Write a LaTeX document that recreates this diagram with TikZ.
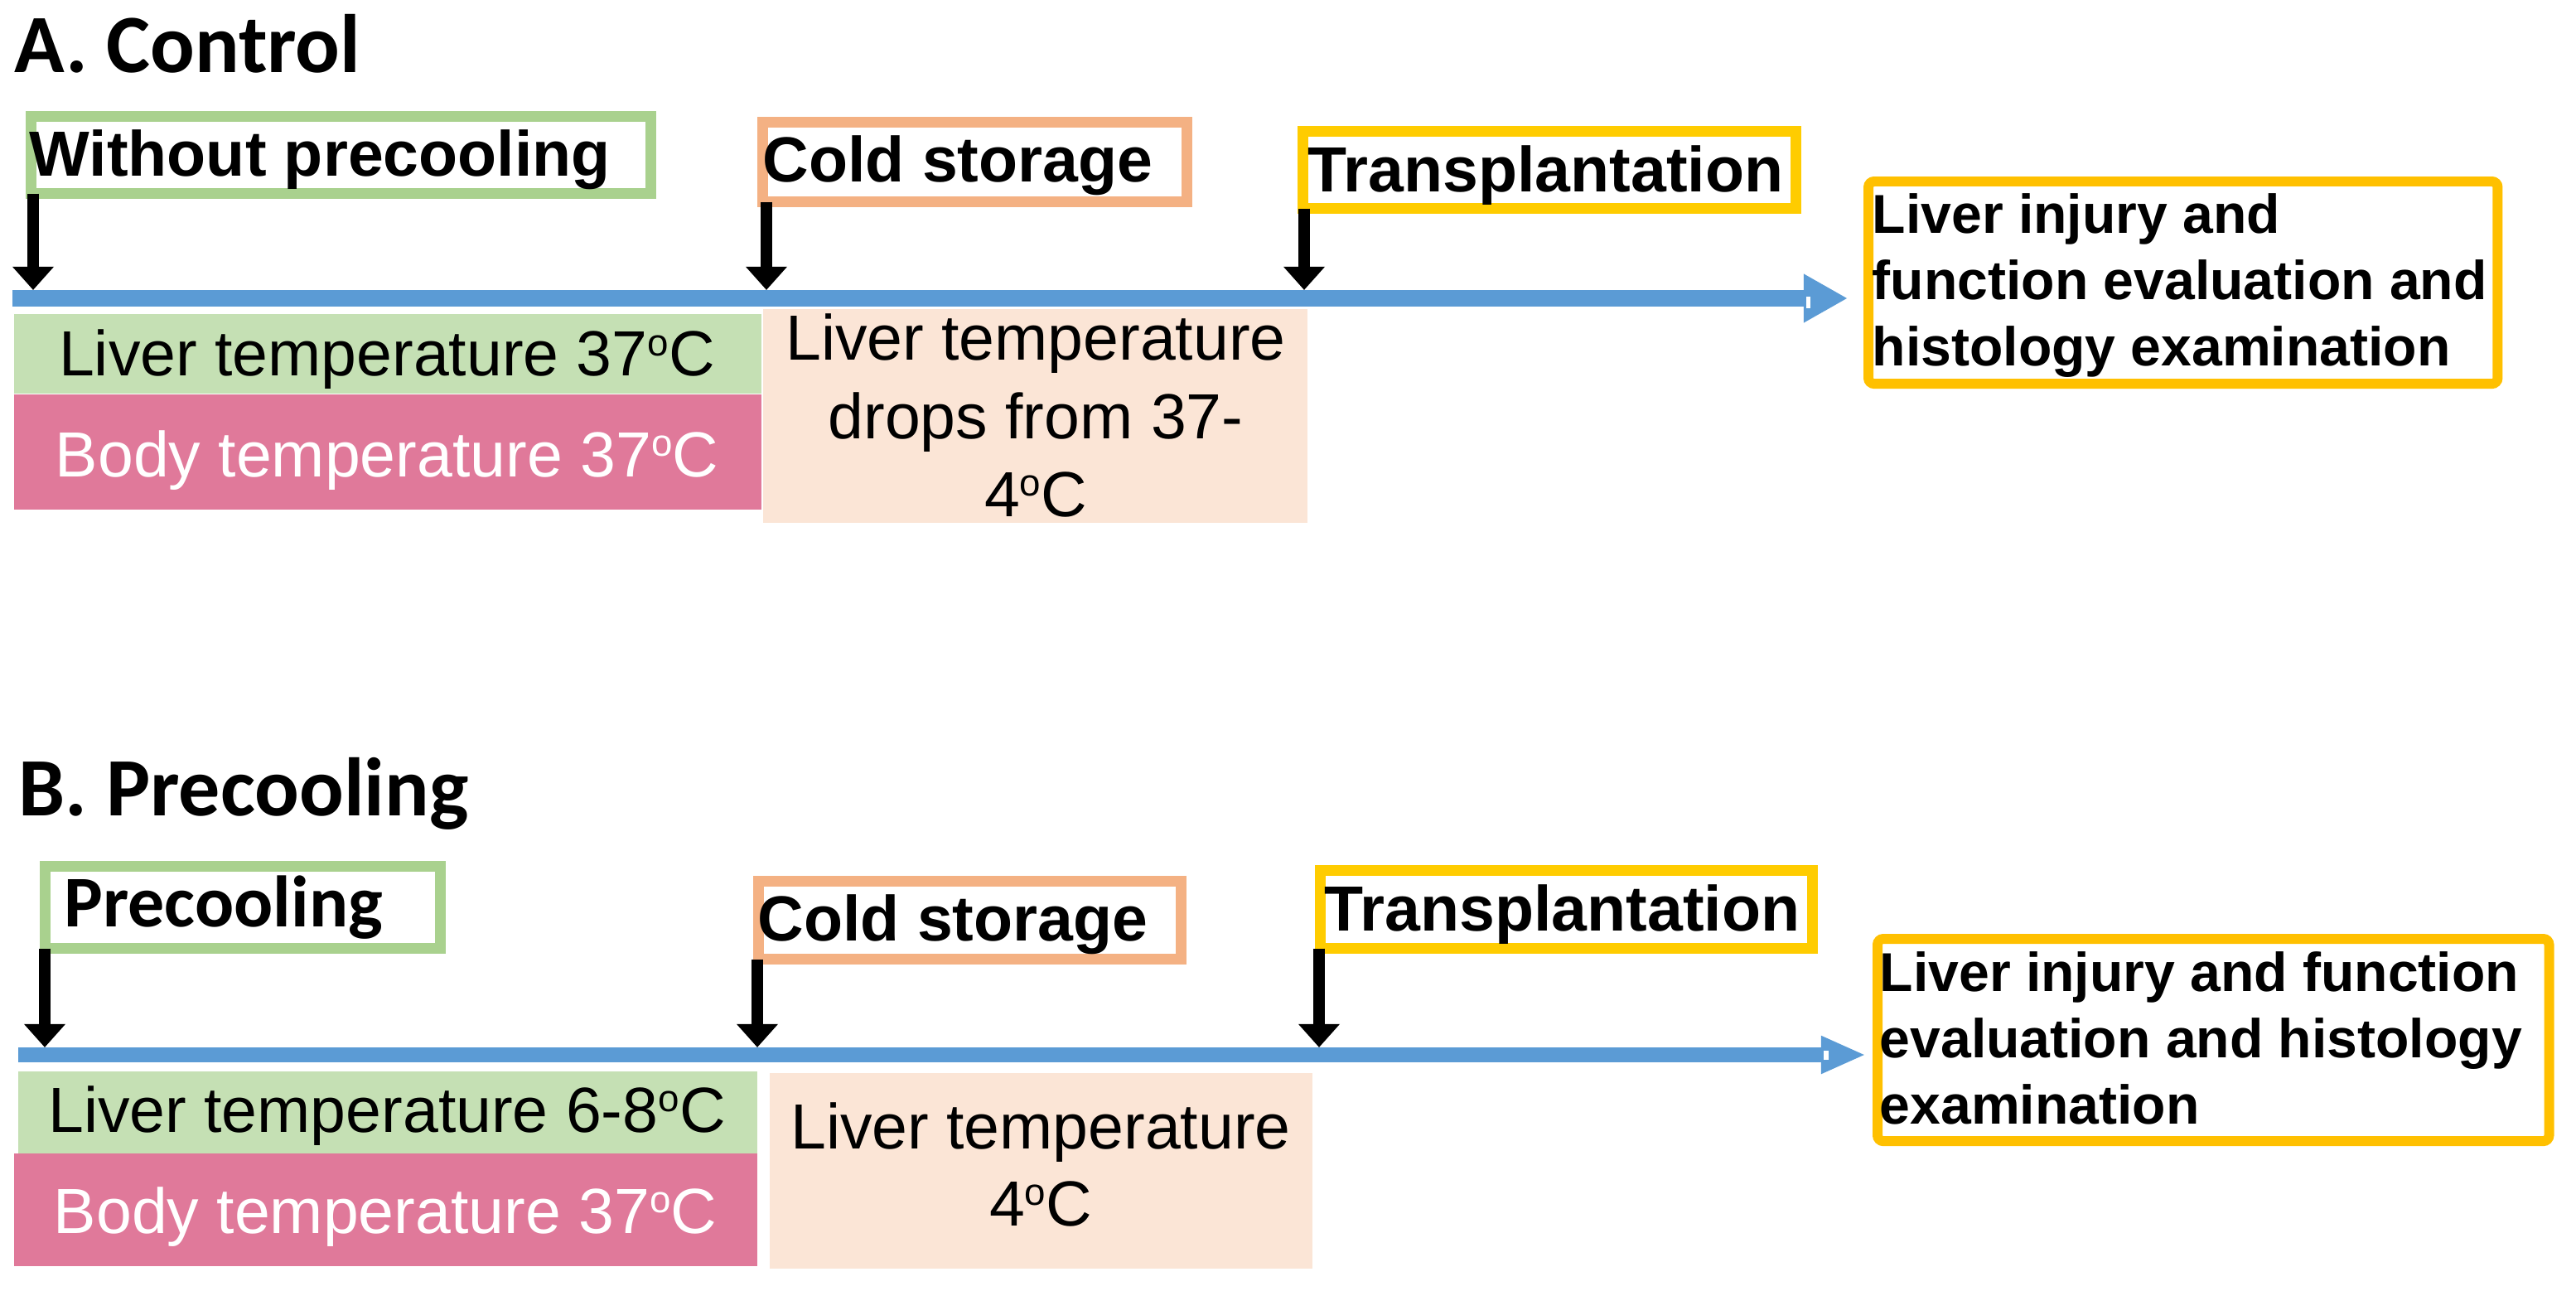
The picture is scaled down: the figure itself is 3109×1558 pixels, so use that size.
\documentclass[tikz,border=0pt]{standalone}
\usepackage{fontspec}
\setmainfont{Liberation Sans}
\newfontfamily\carlito{Carlito}
\usetikzlibrary{arrows.meta}
\definecolor{cgreenb}{HTML}{A9D18E}
\definecolor{corange}{HTML}{F4B183}
\definecolor{cgold}{HTML}{FFCC00}
\definecolor{cgoldb}{HTML}{FFC000}
\definecolor{cgreenf}{HTML}{C5E0B4}
\definecolor{cpink}{HTML}{E0799A}
\definecolor{cpeach}{HTML}{FBE5D6}
\definecolor{cblue}{HTML}{5B9BD5}
\newcommand\dgc{\raisebox{0.32em}{\fontsize{13}{13}\selectfont o}C}
\begin{document}
\begin{tikzpicture}[x=0.01cm,y=-0.01cm,
  frame/.style={draw, line width=3.7pt, inner sep=0pt, outer sep=0pt, anchor=north west, fill=white},
  evframe/.style={draw=cgoldb, line width=3.41pt, rounded corners=2pt, inner sep=0pt, outer sep=0pt, anchor=north west, fill=white},
  fillbox/.style={inner sep=0pt, outer sep=0pt, anchor=north west},
  ttl/.style={font=\carlito\bfseries\fontsize{28.45}{34}\selectfont, inner sep=0pt, anchor=base west},
  lbl/.style={font=\bfseries\fontsize{21.9}{26}\selectfont, inner sep=0pt, anchor=base west},
  lblc/.style={font=\carlito\bfseries\fontsize{25}{30}\selectfont, inner sep=0pt, anchor=base west},
  tmp/.style={font=\fontsize{21.9}{26}\selectfont, inner sep=0pt, anchor=base},
  ev/.style={font=\bfseries\fontsize{18.8}{22}\selectfont, inner sep=0pt, anchor=base west},
  blk/.style={line width=4.2pt, -{Triangle[width=13.7pt,length=8pt]}},
  tlA/.style={cblue, line width=5.69pt, -{Triangle[width=15.65pt,length=15.1pt]}},
  tlB/.style={cblue, line width=5.12pt, -{Triangle[width=11.95pt,length=15.4pt]}}
]
\useasboundingbox (0,0) rectangle (3109,1558);

% ---------------- Panel A ----------------
\node[ttl] (titleA) at (17,88) {A. Control};

\node[frame, draw=cgreenb, minimum width=7.48cm, minimum height=0.93cm] (bA1) at (37.5,140.5) {};
\node[lbl] (tA1) at (35,213) {Without precooling};
\node[frame, draw=corange, minimum width=5.12cm, minimum height=0.96cm] (bA2) at (920.5,147.5) {};
\node[lbl] (tA2) at (920,220) {Cold storage};
\node[frame, draw=cgold, minimum width=5.95cm, minimum height=0.93cm] (bA3) at (1572.5,158.5) {};
\node[lbl] (tA3) at (1578,232) {Transplantation};

\node[evframe, minimum width=7.59cm, minimum height=2.44cm] (evA) at (2255,219) {};
\node[ev] (evA1) at (2259,282) {Liver injury and};
\node[ev] (evA2) at (2259,362) {function evaluation and};
\node[ev] (evA3) at (2259,442) {histology examination};

\node[fillbox, fill=cgreenf, minimum width=9.01cm, minimum height=0.96cm] (gA) at (17,379) {};
\node[tmp] (gAt) at (467,454) {Liver temperature 37\dgc};
\node[fillbox, fill=cpink, minimum width=9.01cm, minimum height=1.39cm] (pA) at (17,476) {};
\node[tmp, text=white] (pAt) at (467,575) {Body temperature 37\dgc};
\node[fillbox, fill=cpeach, minimum width=6.57cm, minimum height=2.58cm] (cA) at (921,373) {};
\node[tmp] (cAt1) at (1250,435) {Liver temperature};
\node[tmp] (cAt2) at (1250,529) {drops from 37-};
\node[tmp] (cAt3) at (1250,623) {4\dgc};

\coordinate (lAs) at (15,360);
\coordinate (lAe) at (2230,360);
\draw[tlA] (lAs) -- (lAe);
\fill[white] (2180,358) rectangle (2185,372);

\coordinate (pA1) at (40,350);
\coordinate (pA2) at (925,350);
\coordinate (pA3) at (1574,350);
\draw[blk] (pA1 |- bA1.south) -- (pA1);
\draw[blk] (pA2 |- bA2.south) -- (pA2);
\draw[blk] (pA3 |- bA3.south) -- (pA3);

% ---------------- Panel B ----------------
\node[ttl] (titleB) at (22,984) {B. Precooling};

\node[frame, draw=cgreenb, minimum width=4.77cm, minimum height=0.99cm] (bB1) at (54.5,1045.5) {};
\node[lblc] (tB1) at (77,1118) {Precooling};
\node[frame, draw=corange, minimum width=5.10cm, minimum height=0.94cm] (bB2) at (915.5,1063.5) {};
\node[lbl] (tB2) at (914,1135) {Cold storage};
\node[frame, draw=cgold, minimum width=5.94cm, minimum height=0.94cm] (bB3) at (1593.5,1050.5) {};
\node[lbl] (tB3) at (1598,1123) {Transplantation};

\node[evframe, minimum width=8.10cm, minimum height=2.44cm] (evB) at (2266,1133) {};
\node[ev] (evB1) at (2268,1196) {Liver injury and function};
\node[ev] (evB2) at (2268,1276) {evaluation and histology};
\node[ev] (evB3) at (2268,1356) {examination};

\node[fillbox, fill=cgreenf, minimum width=8.91cm, minimum height=0.99cm] (gB) at (22,1293) {};
\node[tmp] (gBt) at (467,1366) {Liver temperature 6-8\dgc};
\node[fillbox, fill=cpink, minimum width=8.96cm, minimum height=1.36cm] (pB) at (17,1392) {};
\node[tmp, text=white] (pBt) at (465,1488) {Body temperature 37\dgc};
\node[fillbox, fill=cpeach, minimum width=6.55cm, minimum height=2.36cm] (cB) at (929,1295) {};
\node[tmp] (cBt1) at (1256,1386) {Liver temperature};
\node[tmp] (cBt2) at (1256,1479) {4\dgc};

\coordinate (lBs) at (22,1273);
\coordinate (lBe) at (2252,1273);
\draw[tlB] (lBs) -- (lBe);
\fill[white] (2201,1268) rectangle (2207,1279);

\coordinate (pB1) at (54,1264);
\coordinate (pB2) at (914,1264);
\coordinate (pB3) at (1592,1264);
\draw[blk] (pB1 |- bB1.south) -- (pB1);
\draw[blk] (pB2 |- bB2.south) -- (pB2);
\draw[blk] (pB3 |- bB3.south) -- (pB3);
\end{tikzpicture}
\end{document}
